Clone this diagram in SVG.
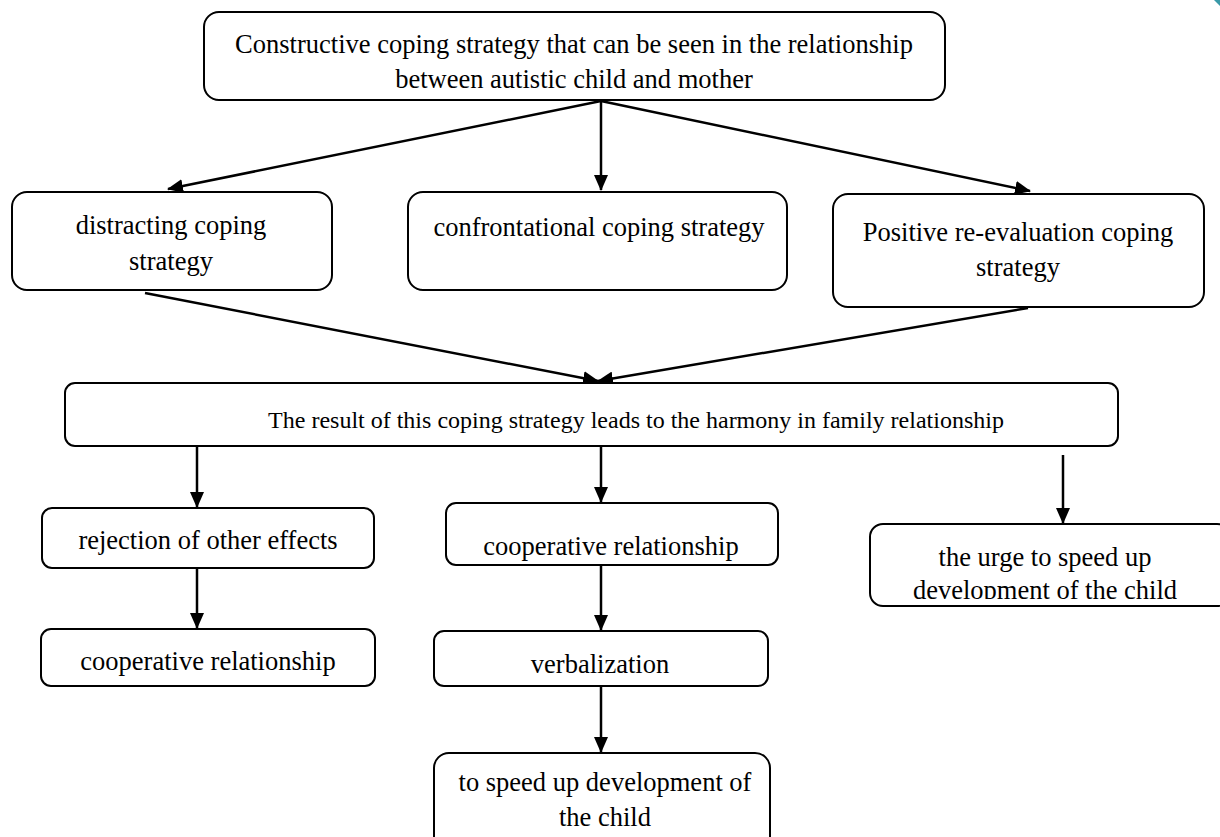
<svg xmlns="http://www.w3.org/2000/svg" width="1220" height="837" viewBox="0 0 1220 837">
<defs>
<marker id="ah" markerWidth="16" markerHeight="14" refX="15" refY="7" orient="auto" markerUnits="userSpaceOnUse">
<path d="M0,0 L16,7 L0,14 Z" fill="#000"/>
</marker>
<clipPath id="urgeclip"><rect x="860" y="500" width="360" height="99"/></clipPath>
</defs>
<style>
.box{fill:#fff;stroke:#000;stroke-width:2}
.t{font-family:"Liberation Serif","Times New Roman",serif;font-size:26.5px;fill:#000;text-anchor:middle}
.m{font-size:24px}
.c{stroke:#000;stroke-width:2.5;fill:none;marker-end:url(#ah)}
</style>
<rect width="1220" height="837" fill="#fff"/>
<path d="M1214,0 L1220,0 L1220,6 Z" fill="#3a9aa8"/>
<g id="connectors">
<line class="c" x1="601" y1="101" x2="168" y2="189"/>
<line class="c" x1="601" y1="101" x2="601" y2="190"/>
<line class="c" x1="601" y1="101" x2="1030" y2="191"/>
<line class="c" x1="145" y1="293" x2="598" y2="381"/>
<line class="c" x1="1028" y1="308" x2="598" y2="381"/>
<line class="c" x1="197" y1="447" x2="197" y2="507"/>
<line class="c" x1="601" y1="447" x2="601" y2="502"/>
<line class="c" x1="1063" y1="455" x2="1063" y2="523"/>
<line class="c" x1="197" y1="568" x2="197" y2="628"/>
<line class="c" x1="601" y1="565" x2="601" y2="630"/>
<line class="c" x1="601" y1="686" x2="601" y2="752"/>
</g>
<g id="n-top"><rect class="box" x="204" y="12" width="741" height="88" rx="15"/>
<text class="t" x="574" y="53">Constructive coping strategy that can be seen in the relationship</text>
<text class="t" x="574" y="88">between autistic child and mother</text></g>
<g id="n-distracting"><rect class="box" x="12" y="192" width="320" height="98" rx="15"/>
<text class="t" x="171" y="234">distracting coping</text>
<text class="t" x="171" y="270">strategy</text></g>
<g id="n-confrontational"><rect class="box" x="408" y="192" width="379" height="98" rx="15"/>
<text class="t" x="599" y="236">confrontational coping strategy</text></g>
<g id="n-positive"><rect class="box" x="833" y="194" width="371" height="113" rx="15"/>
<text class="t" x="1018" y="241">Positive re-evaluation coping</text>
<text class="t" x="1018" y="276">strategy</text></g>
<g id="n-result"><rect class="box" x="65" y="383" width="1053" height="63" rx="10"/>
<text class="t m" x="636" y="428">The result of this coping strategy leads to the harmony in family relationship</text></g>
<g id="n-rejection"><rect class="box" x="42" y="508" width="332" height="60" rx="10"/>
<text class="t" x="208" y="549">rejection of other effects</text></g>
<g id="n-coop-mid"><rect class="box" x="446" y="503" width="332" height="62" rx="10"/>
<text class="t" x="611" y="555">cooperative relationship</text></g>
<g id="n-urge"><rect class="box" x="870" y="524" width="360" height="82" rx="13"/>
<g clip-path="url(#urgeclip)">
<text class="t" x="1045" y="566">the urge to speed up</text>
<text class="t" x="1045" y="599">development of the child</text></g></g>
<g id="n-coop-left"><rect class="box" x="41" y="629" width="334" height="57" rx="10"/>
<text class="t" x="208" y="670">cooperative relationship</text></g>
<g id="n-verbal"><rect class="box" x="434" y="631" width="334" height="55" rx="10"/>
<text class="t" x="600" y="673">verbalization</text></g>
<g id="n-speed"><rect class="box" x="434" y="753" width="336" height="110" rx="15"/>
<text class="t" x="605" y="791">to speed up development of</text>
<text class="t" x="605" y="826">the child</text></g>
</svg>
